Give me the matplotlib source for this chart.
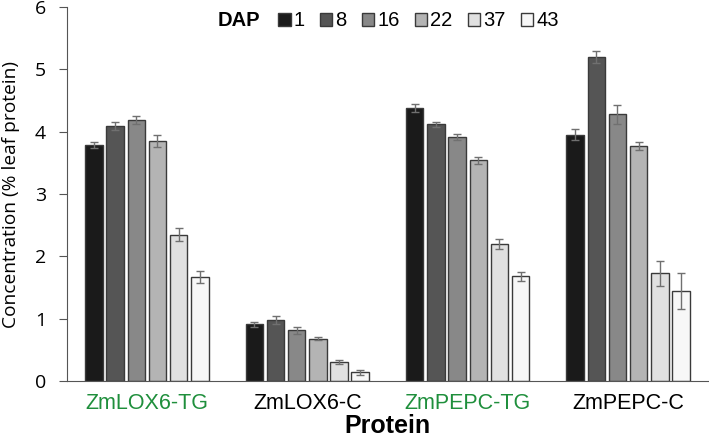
import matplotlib
matplotlib.use("Agg")
import matplotlib.pyplot as plt
from matplotlib.patches import Patch
import numpy as np

# data
proteins = ['ZmLOX6-TG', 'ZmLOX6-C', 'ZmPEPC-TG', 'ZmPEPC-C']
label_colors = ['#1f8f3c', 'black', '#1f8f3c', 'black']
dap = ['1', '8', '16', '22', '37', '43']
conc = [
    [3.79, 4.09, 4.19, 3.85, 2.35, 1.67],   # DAP 1..43 for LOX6-TG
    [0.91, 0.98, 0.81, 0.68, 0.30, 0.14],
    [4.38, 4.12, 3.92, 3.54, 2.20, 1.68],
    [3.95, 5.20, 4.28, 3.77, 1.73, 1.44],
]
err = [
    [0.05, 0.06, 0.06, 0.10, 0.11, 0.10],
    [0.04, 0.06, 0.05, 0.02, 0.03, 0.04],
    [0.06, 0.04, 0.05, 0.06, 0.08, 0.07],
    [0.09, 0.09, 0.15, 0.07, 0.20, 0.29],
]
bar_colors = ['#1a1a1a', '#555555', '#888888', '#b4b4b4', '#e0e0e0', '#f7f7f7']

fig = plt.figure(figsize=(7.09, 4.44), dpi=100)
ax = fig.add_axes([0.094, 0.142, 0.905, 0.842])

conc = np.array(conc)
err = np.array(err)
x = np.arange(len(proteins))
pitch = 0.132
width = 0.109
for i in range(len(dap)):
    pos = x + (i - 2.5) * pitch
    ax.bar(pos, conc[:, i], width, color=bar_colors[i], edgecolor='#3a3a3a',
           linewidth=1.0, zorder=2)
    ax.errorbar(pos, conc[:, i], yerr=err[:, i], fmt='none', ecolor='#707070',
                elinewidth=1.0, capsize=3, capthick=1.0, zorder=3)

ax.set_xlim(-0.5, len(proteins) - 0.5)
ax.set_ylim(0, 6)
ax.set_yticks(range(0, 7))
for s in ['top', 'right']:
    ax.spines[s].set_visible(False)
ax.spines['left'].set_color('#555555')
ax.spines['bottom'].set_color('#555555')
ax.tick_params(axis='y', direction='out', length=6, color='#555555',
               labelsize=14, pad=9)
ax.tick_params(axis='x', length=0, pad=9)
for t in ax.get_yticklabels():
    t.set_fontfamily('Open Sans')
ax.set_xticks(x)
ax.set_xticklabels(proteins, fontsize=15.5, fontfamily='Liberation Sans')
for t, c in zip(ax.get_xticklabels(), label_colors):
    t.set_color(c)

ax.set_ylabel('Concentration (% leaf protein)', fontsize=13.8,
              fontfamily='Open Sans')
ax.yaxis.set_label_coords(-0.072, 0.5)
ax.set_xlabel('Protein', fontsize=18, fontweight='bold',
              fontfamily='Liberation Sans', labelpad=0)

handles = [Patch(facecolor=c, edgecolor='#3a3a3a', linewidth=1.0)
           for c in bar_colors]
leg = fig.legend(handles, dap, ncols=6, loc='center left',
                 bbox_to_anchor=(0.378, 0.953), frameon=False,
                 prop={'family': 'Liberation Sans', 'size': 14.5},
                 handlelength=0.62, handleheight=0.62, handletextpad=0.15,
                 columnspacing=0.75, borderpad=0)
fig.text(0.307, 0.953, 'DAP', fontsize=14.5, fontweight='bold',
         fontfamily='Liberation Sans', va='center', ha='left')

fig.savefig('out.png', dpi=100)
